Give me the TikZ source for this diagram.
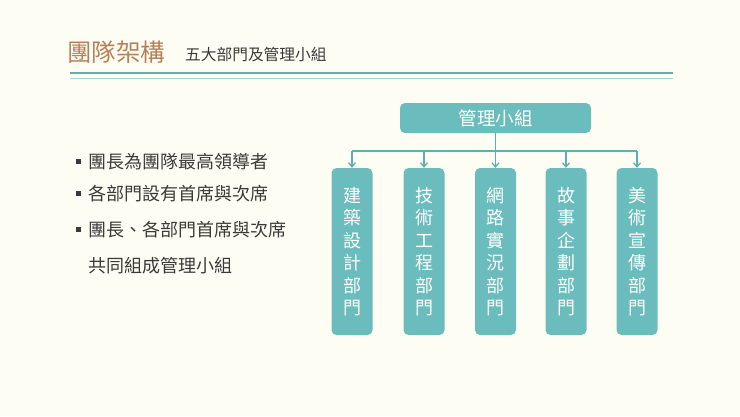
\documentclass[tikz,border=0pt]{standalone}
\usepackage{fontspec}
\setmainfont{Noto Sans CJK TC}
\usetikzlibrary{arrows.meta}
\definecolor{bg}{HTML}{FEFDF3}
\definecolor{teal}{HTML}{6BBDBD}
\definecolor{tealdark}{HTML}{5FAFB3}
\definecolor{brownt}{HTML}{B5815A}
\definecolor{txt}{HTML}{3A3A3A}
\tikzset{
  dept/.style={fill=teal,rounded corners=5pt,minimum width=41pt,minimum height=167pt,inner sep=0pt,text=white,font=\fontsize{18}{22.5}\selectfont,align=center},
  conn/.style={draw=tealdark,line width=1.3pt,-{Straight Barb[length=4pt,width=7pt]}},
  bul/.style={anchor=west,text=txt,font=\fontsize{18}{20}\selectfont,inner sep=0pt}
}
\begin{document}
\begin{tikzpicture}[x=1pt,y=-1pt]
\fill[bg] (0,0) rectangle (740,416);
\useasboundingbox (0,0) rectangle (740,416);
\node[anchor=west,text=brownt,font=\fontsize{24.5}{26}\selectfont,inner sep=0pt] (title) at (67,52) {團隊架構};
\node[anchor=west,text=txt,font=\fontsize{15.7}{17}\selectfont,inner sep=0pt] (sub) at (185,55) {五大部門及管理小組};
\draw[tealdark,line width=2.4pt] (70,73) -- (673,73);
\draw[teal!60,line width=0.9pt] (70,78.5) -- (673,78.5);
\node[fill=teal,rounded corners=5pt,minimum width=191pt,minimum height=30pt,text=white,font=\fontsize{18.5}{20}\selectfont] (m) at (495.5,118) {管理小組};
\coordinate (j) at (495.5,151);
\foreach \n/\x/\t in {a/352/建\\築\\設\\計\\部\\門, b/424/技\\術\\工\\程\\部\\門, c/495.5/網\\路\\實\\況\\部\\門, d/566/故\\事\\企\\劃\\部\\門, e/637/美\\術\\宣\\傳\\部\\門}{
  \node[dept] (\n) at (\x,251.5) {\t};
}
\draw[tealdark,line width=1.3pt] (m.south) -- (j);
\draw[tealdark,line width=1.3pt] (a.north |- j) -- (e.north |- j);
\foreach \n in {a,b,c,d,e}{ \draw[conn] (\n.north |- j) -- (\n.north); }
\foreach \i/\y/\t in {1/162/團長為團隊最高領導者, 2/194/各部門設有首席與次席, 3/230/團長、各部門首席與次席}{
  \fill[txt] (76,\y-3) rectangle (81,\y+2);
  \node[bul] (b\i) at (88,\y) {\t};
}
\node[bul] (b4) at (88,266) {共同組成管理小組};
\end{tikzpicture}
\end{document}
